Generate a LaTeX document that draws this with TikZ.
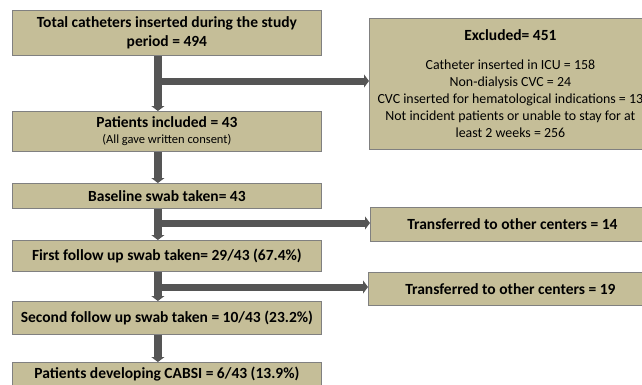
\documentclass[tikz,border=0pt]{standalone}
\usepackage{fontspec}
\setmainfont{Carlito}
\usetikzlibrary{arrows.meta}
\definecolor{boxfill}{RGB}{197,190,152}
\definecolor{boxline}{RGB}{128,128,128}
\definecolor{arrowcol}{RGB}{85,85,85}
\begin{document}
\begin{tikzpicture}[x=1pt,y=-1pt,
  box/.style={draw=boxline, line width=0.8pt, fill=boxfill, anchor=north west,
    inner sep=0pt, align=center, font=\bfseries\fontsize{15.5}{19}\selectfont},
  mainbox/.style={box, minimum width=309pt},
  sidebox/.style={box, minimum width=284pt},
  vflow/.style={draw=arrowcol, line width=8pt, -{Triangle[length=5pt,width=13pt]}},
  hflow/.style={draw=arrowcol, line width=7pt, -{Triangle[length=5pt,width=13pt]}}]
\clip (0,0) rectangle (642,384);
\fill[white] (0,0) rectangle (642,384);

\node[mainbox, minimum height=45pt] (total) at (12,10)
  {Total catheters inserted during the study\\period = 494};
\node[mainbox, minimum height=40pt] (incl) at (12,111)
  {Patients included = 43\\[-3pt]{\mdseries\fontsize{12.5}{14}\selectfont (All gave written consent)}};
\node[mainbox, minimum height=25pt] (base) at (12,183) {Baseline swab taken= 43};
\node[mainbox, minimum height=31pt] (first) at (12,240) {First follow up swab taken= 29/43 (67.4\%)};
\node[mainbox, minimum height=33pt] (second) at (12,301) {Second follow up swab taken = 10/43 (23.2\%)};
\node[mainbox, minimum height=24pt] (cabsi) at (12,362) {Patients developing CABSI = 6/43 (13.9\%)};

\node[box, minimum width=282pt, minimum height=131pt,
  font=\mdseries\fontsize{13.9}{17}\selectfont] (excl) at (369,18)
  {{\bfseries\fontsize{15.5}{17}\selectfont Excluded= 451}\\[12pt]
   Catheter inserted in ICU = 158\\
   Non-dialysis CVC = 24\\
   CVC inserted for hematological indications = 13\\
   Not incident patients or unable to stay for at\\
   least 2 weeks = 256};
\node[sidebox, minimum height=34pt] (tr1) at (370,207) {Transferred to other centers = 14};
\node[sidebox, minimum height=33pt] (tr2) at (368,272) {Transferred to other centers = 19};

\draw[vflow] ([xshift=-9pt]total.south) -- ([xshift=-9pt]incl.north);
\draw[vflow] ([xshift=-9pt]incl.south) -- ([xshift=-9pt]base.north);
\draw[vflow] ([xshift=-9pt]base.south) -- ([xshift=-9pt]first.north);
\draw[vflow] ([xshift=-9pt]first.south) -- ([xshift=-9pt]second.north);
\draw[vflow] ([xshift=-9pt]second.south) -- ([xshift=-9pt]cabsi.north);

\coordinate (j1) at (157.5,81);
\coordinate (j2) at (157.5,223);
\coordinate (j3) at (157.5,287);
\draw[hflow] (j1) -- (j1 -| excl.west);
\draw[hflow] (j2) -- (j2 -| tr1.west);
\draw[hflow] (j3) -- (j3 -| tr2.west);
\end{tikzpicture}
\end{document}
